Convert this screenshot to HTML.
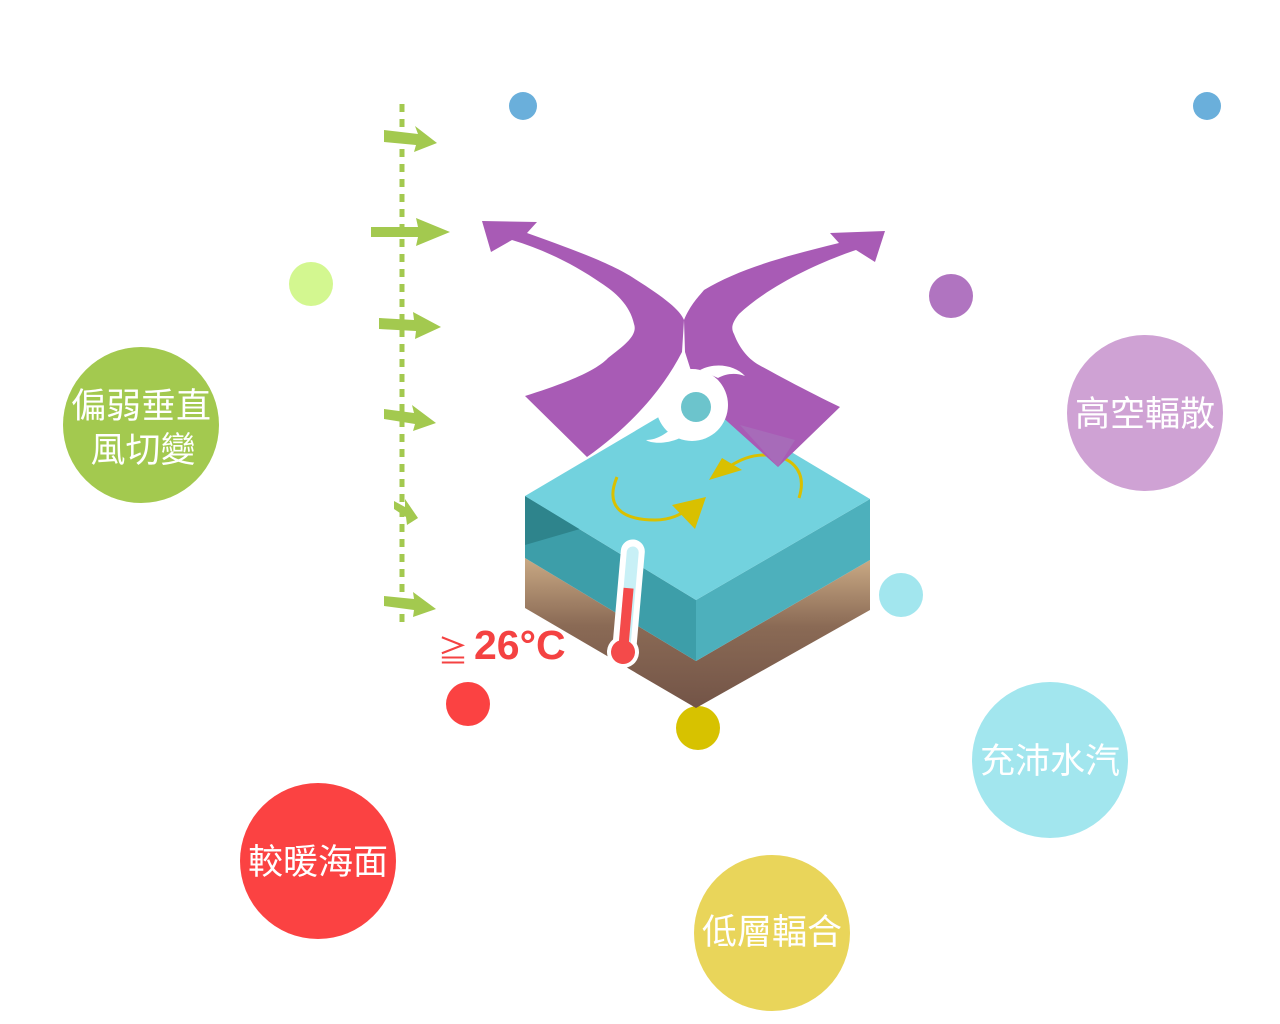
<!DOCTYPE html>
<html><head><meta charset="utf-8"><style>
html,body{margin:0;padding:0;background:#fff;width:1280px;height:1024px;overflow:hidden}
svg{display:block}
text{font-family:"Liberation Sans","Noto Sans CJK TC",sans-serif}
</style></head><body>
<svg width="1280" height="1024" viewBox="0 0 1280 1024" xmlns="http://www.w3.org/2000/svg">
<defs>
<linearGradient id="soil" x1="0" y1="0" x2="0" y2="1">
<stop offset="0" stop-color="#c9a984"/><stop offset="0.45" stop-color="#8a6a55"/><stop offset="1" stop-color="#735447"/>
</linearGradient>
</defs>
<circle cx="523" cy="106" r="14" fill="#6aafdb"/>
<circle cx="1207" cy="106" r="14" fill="#6aafdb"/>
<circle cx="311" cy="284" r="22" fill="#d3f790"/>
<circle cx="951" cy="296" r="22" fill="#b074c0"/>
<circle cx="901" cy="595" r="22" fill="#a2e6ee"/>
<circle cx="468" cy="704" r="22" fill="#fb4242"/>
<circle cx="698" cy="728" r="22" fill="#d7c200"/>
<circle cx="141" cy="425" r="78" fill="#a3c94f"/>
<circle cx="1145" cy="413" r="78" fill="#cfa2d4"/>
<circle cx="1050" cy="760" r="78" fill="#a2e6ee"/>
<circle cx="318" cy="861" r="78" fill="#fb4242"/>
<circle cx="772" cy="933" r="78" fill="#e9d55a"/>
<g fill="#fff" font-size="35" text-anchor="middle">
<text x="141" y="418">偏弱垂直</text>
<text x="143" y="462">風切變</text>
<text x="1145" y="426">高空輻散</text>
<text x="1050" y="773">充沛水汽</text>
<text x="318" y="874">較暖海面</text>
<text x="772" y="944">低層輻合</text>
</g>
<line x1="402" y1="104" x2="402" y2="628" stroke="#a3c94f" stroke-width="5" stroke-dasharray="8,7"/>
<g fill="#a3c94f">
<path d="M384,130 L418,134 L415,126 L437,143 L414,152 L416,145 L384,142Z"/>
<path d="M371,227 L418,227 L416,218 L450,232 L416,246 L418,237 L371,237Z"/>
<path d="M379,318 L414,320 L413,312 L441,327 L415,339 L416,331 L379,329Z"/>
<path d="M384,409 L414,413 L412,405 L436,423 L413,431 L415,424 L384,419Z"/>
<path d="M394,501 L405,507 L405,499 L418,518 L407,525 L406,517 L394,509Z"/>
<path d="M384,596 L414,599 L413,592 L436,609 L413,617 L414,610 L384,606Z"/>
</g>
<polygon points="525,558 696,661 696,708 525,608" fill="url(#soil)"/>
<polygon points="696,661 870,560 870,610 696,708" fill="url(#soil)"/>
<polygon points="525,496 696,600 696,661 525,558" fill="#3d9ea9"/>
<polygon points="525,496 580,529 525,545" fill="#2e848c"/>
<polygon points="696,600 870,499 870,560 696,661" fill="#4db0bc"/>
<polygon points="525,496 696,395 870,499 696,600" fill="#72d2de"/>
<path d="M617,477 C605,505 620,520 655,520 C670,520 680,515 690,508" fill="none" stroke="#d9c000" stroke-width="3"/>
<polygon points="672,505 706,497 695,529" fill="#d9c000"/>
<path d="M799,498 C808,470 790,455 765,455 C750,455 740,460 730,466" fill="none" stroke="#d9c000" stroke-width="3"/>
<polygon points="709,480 722,458 742,470" fill="#d9c000"/>
<g fill="#a85bb5">
<path d="M482,221 L537,222 L527,233 C560,245 610,262 635,279 C665,298 680,310 684,320 L682,352 C660,395 625,430 587,457 L525,396 C560,385 595,372 608,358 C625,345 638,335 634,324 C630,305 615,292 601,283 C575,265 545,250 512,240 L491,252Z"/>
<path d="M885,231 L875,262 L856,250 C820,262 770,285 739,314 C730,325 732,330 734,334 C740,350 750,360 759,365 C790,382 815,395 840,407 L778,467 L699,396 L685,352 L684,320 C690,305 700,295 704,290 C740,268 790,255 839,243 L830,233Z"/>
</g>
<polygon points="740,425 778,467 795,440" fill="#a777bc" opacity="0.6"/>
<g>
<circle cx="692" cy="405" r="36" fill="#fff"/>
<circle cx="696" cy="407" r="15" fill="#6cc4cc"/>
<path d="M700,370 C715,362 735,365 745,376 C735,372 725,374 718,378Z" fill="#fff"/>
<path d="M680,438 C665,445 650,443 646,440 C658,440 668,432 672,428Z" fill="#fff"/>
</g>
<g transform="rotate(5 623 652)">
<rect x="612" y="539" width="24" height="118" rx="12" fill="#fff"/>
<circle cx="623" cy="652" r="16" fill="#fff"/>
<rect x="618" y="546" width="12" height="100" rx="6" fill="#c8f0f6"/>
<rect x="618" y="588" width="10" height="62" fill="#f44a4a"/>
<circle cx="623" cy="652" r="12" fill="#f44a4a"/>
</g>
<text x="438" y="662" fill="#f44242" font-size="30">≧</text>
<text x="474" y="659" fill="#f44242" font-size="41" font-weight="bold">26°C</text>
</svg>
</body></html>
